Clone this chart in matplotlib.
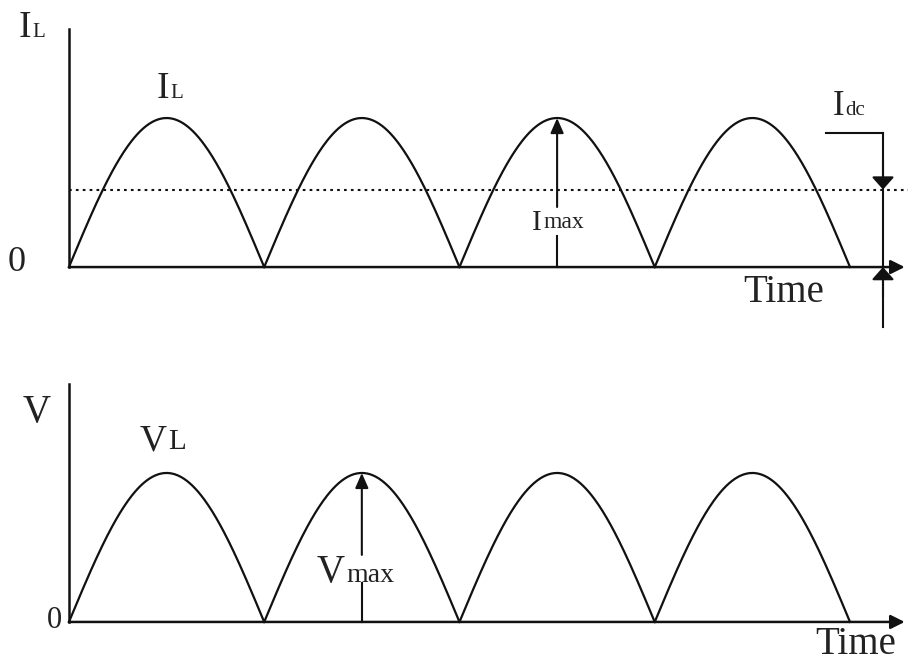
import matplotlib.pyplot as plt
import numpy as np

plt.rcParams['font.family'] = ['Liberation Serif', 'DejaVu Serif']

# Data (normalised: time in half-cycles, amplitude in units of the peak)
zero_crossings = [0, 1, 2, 3, 4]
peak = 1.0
dc_level = 0.52          # dotted I_dc level as drawn
imax_at = 2.5            # half-cycle where I_max is marked
vmax_at = 1.5            # half-cycle where V_max is marked
time_end = 4.28          # end of the time axis (arrow tip)
yaxis_top = 1.6

ink = '#111111'
txt = '#222222'
narrow_head = '-|>,head_length=0.5,head_width=0.22'
wide_head = '-|>,head_length=0.45,head_width=0.4'
axis_head = '-|>,head_length=0.6,head_width=0.3'


def waveform(ax):
    for a, b in zip(zero_crossings[:-1], zero_crossings[1:]):
        t = np.linspace(a, b, 200)
        ax.plot(t, peak * np.sin(np.pi * (t - a) / (b - a)), color=ink, lw=1.6)


def arrow(ax, x0, y0, x1, y1, style=narrow_head, lw=1.5, scale=18):
    ax.annotate('', xy=(x1, y1), xytext=(x0, y0),
                arrowprops=dict(arrowstyle=style, color=ink, lw=lw,
                                mutation_scale=scale, shrinkA=0, shrinkB=0))


def axes_lines(ax):
    ax.plot([0, 0], [0, yaxis_top], color=ink, lw=1.8)
    arrow(ax, 0, 0, time_end, 0, style=axis_head, lw=1.8, scale=14)


def sub_label(ax, x, y, main, sub, size, subsize):
    t = ax.text(x, y, main, fontsize=size, va='baseline', ha='left', color=txt)
    ax.annotate(sub, xy=(1, 0), xycoords=t, xytext=(1, 2), textcoords='offset points',
                fontsize=subsize, va='bottom', ha='left', color=txt)


fig = plt.figure(figsize=(9.08, 6.65), dpi=100)
ax1 = fig.add_axes([0, 320 / 665, 1, 345 / 665])
ax2 = fig.add_axes([0, 0, 1, 320 / 665])
ax1.set_xlim(-0.353, 4.297)
ax1.set_ylim(-0.523, 1.792)
ax2.set_xlim(-0.353, 4.297)
ax2.set_ylim(-0.289, 1.859)
for ax in (ax1, ax2):
    ax.axis('off')
    waveform(ax)
    axes_lines(ax)

# --- current panel ---
ax1.plot([0, 4.297], [dc_level, dc_level], color=ink, lw=1.5, ls=(0, (1.3, 2)))
sub_label(ax1, -0.26, 1.544, 'I', 'L', 27, 15)
sub_label(ax1, 0.45, 1.134, 'I', 'L', 27, 15)
ax1.text(-0.312, 0.03, '0', fontsize=26, ha='left', va='center', color=txt)

# I_max arrow with gap for the label
arrow(ax1, imax_at, 0.403, imax_at, peak)
ax1.plot([imax_at, imax_at], [0, 0.208], color=ink, lw=1.5)
sub_label(ax1, 2.371, 0.25, 'I', 'max', 21, 17)

# I_dc bracket
xb = 4.169
ax1.plot([3.877, xb], [0.899, 0.899], color=ink, lw=1.5)
ax1.plot([xb, xb], [0.899, -0.403], color=ink, lw=1.5)
arrow(ax1, xb, dc_level + 0.2, xb, dc_level, style=wide_head, scale=17)
arrow(ax1, xb, -0.2, xb, 0, style=wide_head, scale=17)
sub_label(ax1, 3.91, 1.02, 'I', 'dc', 25, 15)
ax1.text(3.662, -0.168, 'Time', fontsize=28, ha='center', va='center', color=txt)

# --- voltage panel ---
sub_label(ax2, -0.236, 1.342, 'V', '', 28, 15)
sub_label(ax2, 0.364, 1.154, 'V', 'L', 27, 21)
ax2.text(-0.036, 0.013, '0', fontsize=22, ha='right', va='center', color=txt)
arrow(ax2, vmax_at, 0.45, vmax_at, peak)
ax2.plot([vmax_at, vmax_at], [0, 0.262], color=ink, lw=1.5)
sub_label(ax2, 1.27, 0.268, 'V', 'max', 28, 20)
ax2.text(4.03, -0.154, 'Time', fontsize=28, ha='center', va='center', color=txt)

plt.savefig('out.png', dpi=100)
